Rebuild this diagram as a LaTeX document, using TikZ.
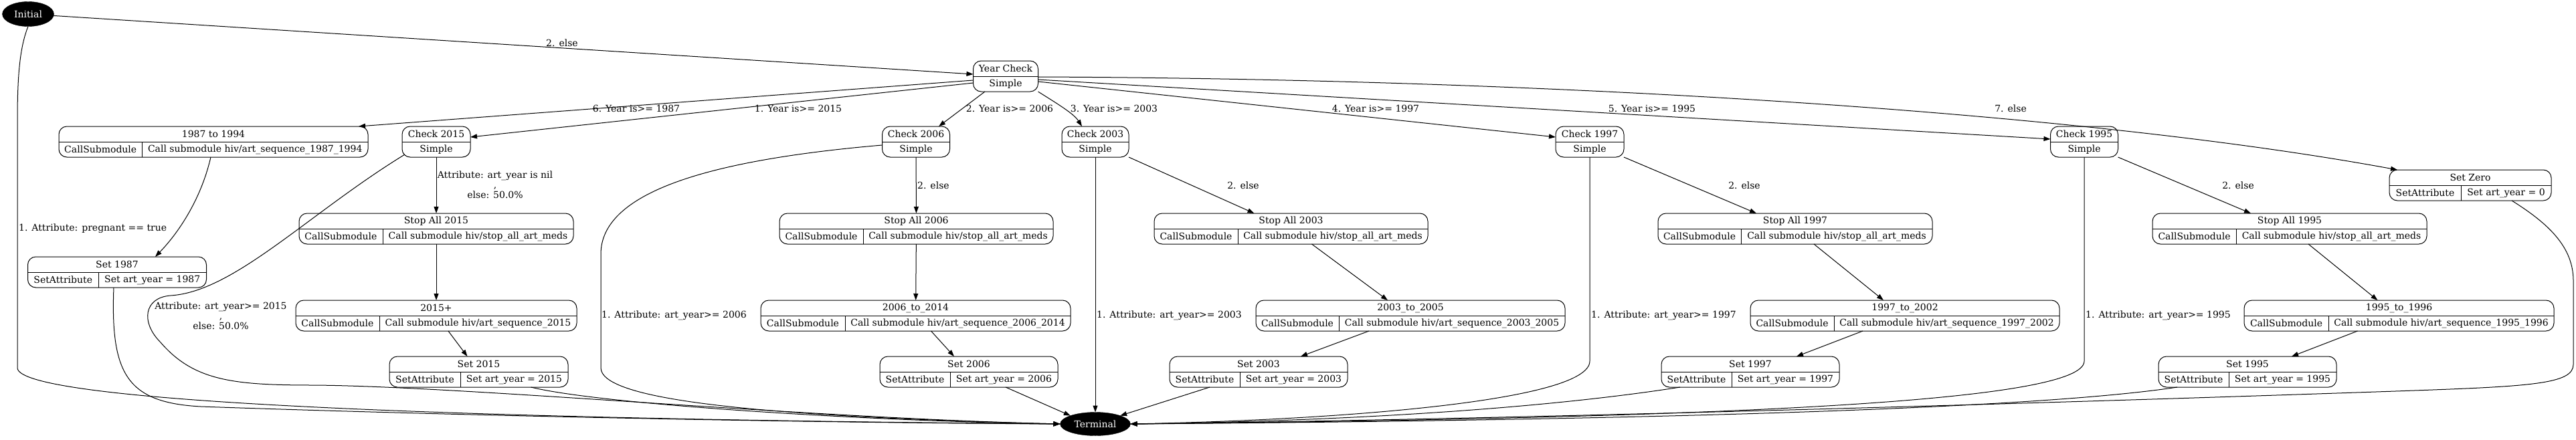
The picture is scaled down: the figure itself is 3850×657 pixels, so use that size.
\documentclass[tikz,border=0pt]{standalone}
\usepackage{fontspec}
\setmainfont{DejaVu Serif}
\usepackage{tikz}
\usetikzlibrary{calc,shapes.geometric,arrows.meta}

\tikzset{
    rec/.style={draw=black, line width=1pt, rounded corners=12pt, inner sep=0pt, outer sep=0pt, minimum height=46pt},
    rectext/.style={inner sep=0pt, font=\fontsize{14}{15}\selectfont},
    term/.style={ellipse, fill=black, draw=black, text=white, inner sep=0pt, outer sep=0pt, font=\fontsize{14}{15}\selectfont},
    edge/.style={line width=1pt, -{Triangle[length=10pt,width=7pt]}},
    lbl/.style={inner sep=0pt, align=center, font=\fontsize{14}{15}\selectfont},
}

% record box: name, left, right, y, divider, header, type, description
\newcommand{\recbox}[8]{
    \node[rec, minimum width={(#3-#2)*1pt}] (#1) at ({(#2+#3)/2},#4) {};
    \draw[line width=1pt] (#1.west) -- (#1.east);
    \draw[line width=1pt] (#5,#4) -- (#5,#4+23);
    \node[rectext] (#1h) at ({(#2+#3)/2},#4-11.5) {#6};
    \node[rectext] (#1l) at ({(#2+#5)/2},#4+11.5) {#7};
    \node[rectext] (#1r) at ({(#5+#3)/2},#4+11.5) {#8};
}

% simple box: name, x, y, width, header
\newcommand{\chkbox}[5]{
    \node[rec, minimum width=#4pt] (#1) at (#2,#3) {};
    \draw[line width=1pt] (#1.west) -- (#1.east);
    \node[rectext] (#1h) at (#2,#3-11.5) {#5};
    \node[rectext] (#1l) at (#2,#3+11.5) {Simple};
}

\begin{document}
\begin{tikzpicture}[x=1pt, y=-1pt]
    \useasboundingbox[fill=white] (0,0) rectangle (3850,657);

    \node[term, minimum width=77pt, minimum height=37pt] (init) at (42,21) {Initial};
    
    \node[term, minimum width=105pt, minimum height=35pt] (term) at (1637,634) {Terminal};
    
    \chkbox{yc}{1503}{114}{97}{Year Check}
    
    \chkbox{c2015}{652}{212}{102}{Check 2015}
    \chkbox{c2006}{1369}{212}{101}{Check 2006}
    \chkbox{c2003}{1637}{212}{100}{Check 2003}
    \chkbox{c1997}{2376}{212}{102}{Check 1997}
    \chkbox{c1995}{3115}{212}{101}{Check 1995}
    
    \recbox{r1987}{88}{550}{212}{212.5}{1987 to 1994}{CallSubmodule}{Call submodule hiv/art\_sequence\_1987\_1994}
    \recbox{set1987}{41.5}{308.5}{407}{147}{Set 1987}{SetAttribute}{Set art\_year = 1987}
    
    \recbox{stop2015}{447}{857}{342}{572}{Stop All 2015}{CallSubmodule}{Call submodule hiv/stop\_all\_art\_meds}
    \recbox{r2015}{442}{862}{472}{567}{2015+}{CallSubmodule}{Call submodule hiv/art\_sequence\_2015}
    \recbox{set2015}{582}{849}{556}{688}{Set 2015}{SetAttribute}{Set art\_year = 2015}
    
    \recbox{stop2006}{1165}{1574}{342}{1290}{Stop All 2006}{CallSubmodule}{Call submodule hiv/stop\_all\_art\_meds}
    \recbox{r2006}{1137}{1600}{472}{1263}{2006\_to\_2014}{CallSubmodule}{Call submodule hiv/art\_sequence\_2006\_2014}
    \recbox{set2006}{1315}{1581}{556}{1420}{Set 2006}{SetAttribute}{Set art\_year = 2006}
    
    \recbox{stop2003}{1725}{2134}{342}{1850}{Stop All 2003}{CallSubmodule}{Call submodule hiv/stop\_all\_art\_meds}
    \recbox{r2003}{1877}{2339}{472}{2001}{2003\_to\_2005}{CallSubmodule}{Call submodule hiv/art\_sequence\_2003\_2005}
    \recbox{set2003}{1748}{2014}{556}{1853}{Set 2003}{SetAttribute}{Set art\_year = 2003}
    
    \recbox{stop1997}{2478}{2888}{342}{2602}{Stop All 1997}{CallSubmodule}{Call submodule hiv/stop\_all\_art\_meds}
    \recbox{r1997}{2616}{3078}{472}{2741}{1997\_to\_2002}{CallSubmodule}{Call submodule hiv/art\_sequence\_1997\_2002}
    \recbox{set1997}{2483}{2749}{556}{2588}{Set 1997}{SetAttribute}{Set art\_year = 1997}
    
    \recbox{stop1995}{3217}{3627}{342}{3342}{Stop All 1995}{CallSubmodule}{Call submodule hiv/stop\_all\_art\_meds}
    \recbox{r1995}{3354}{3817}{472}{3480}{1995\_to\_1996}{CallSubmodule}{Call submodule hiv/art\_sequence\_1995\_1996}
    \recbox{set1995}{3226}{3492}{556}{3331}{Set 1995}{SetAttribute}{Set art\_year = 1995}
    
    \recbox{setzero}{3571}{3813}{277}{3678}{Set Zero}{SetAttribute}{Set art\_year = 0}
    
    
    % edges out of Initial and Year Check
    \draw[edge] (init) -- (yc);
    \draw[edge] (init.south) .. controls (30,70) and (26,110) .. (26,180) -- (26,550) .. controls (26,598) and (600,626) .. (term.west);
    
    \draw[edge] ($(yc.west)+(0,6)$) -- ($(r1987.north east)+(-14,0)$);
    \draw[edge] ($(yc.west)+(0,10)$) -- ($(c2015.east)+(0,-7)$);
    \draw[edge] ($(yc.south)+(-31,0)$) -- ($(c2006.north)+(34,0)$);
    \draw[edge] (yc.south east) .. controls (1580,155) and (1605,170) .. ($(c2003.north)+(-20,0)$);
    \draw[edge] ($(yc.east)+(0,8)$) -- ($(c1997.west)+(0,-7)$);
    \draw[edge] ($(yc.east)+(0,5)$) -- ($(c1995.west)+(0,-4)$);
    \draw[edge] ($(yc.east)+(0,1)$) .. controls (2300,118) and (3100,165) .. ($(setzero.north west)+(12,0)$);
    
    % 1987 branch
    \draw[edge] ($(r1987.south)+(-4,0)$) .. controls (300,300) and (265,350) .. ($(set1987.north)+(57,0)$);
    \draw[edge] ($(set1987.south)+(-5,0)$) .. controls (165,560) and (190,602) .. (300,608) .. controls (700,622) and (1200,632) .. (term.west);
    
    % 2015 branch
    \draw[edge] (c2015) -- (stop2015);
    \draw[edge] ($(c2015.south west)+(4,-4)$) .. controls (460,320) and (350,436) .. (255,442) .. controls (215,445) and (210,482) .. (240,512) .. controls (290,570) and (350,576) .. (470,576) .. controls (700,578) and (1200,625) .. (term.west);
    \draw[edge] (stop2015) -- (r2015);
    \draw[edge] ($(r2015.south)+(18,0)$) -- ($(set2015.north)+(-17,0)$);
    \draw[edge] ($(set2015.south)+(78,0)$) .. controls (900,605) and (1300,630) .. (term.west);
    
    % 2006 branch
    \draw[edge] (c2006) -- (stop2006);
    \draw[edge] ($(c2006.west)+(0,5)$) .. controls (1050,240) and (898,290) .. (898,380) -- (898,550) .. controls (898,595) and (1100,622) .. (term.west);
    \draw[edge] (stop2006) -- (r2006);
    \draw[edge] ($(r2006.south)+(23,0)$) -- ($(set2006.north)+(-22,0)$);
    \draw[edge] ($(set2006.south)+(55,0)$) -- (term.north west);
    
    % 2003 branch
    \draw[edge] (c2003) -- (term);
    \draw[edge] (c2003.south east) -- ($(stop2003.north)+(-55,0)$);
    \draw[edge] ($(stop2003.south)+(31,0)$) -- ($(r2003.north)+(-34,0)$);
    \draw[edge] ($(r2003.south)+(-62,0)$) -- ($(set2003.north)+(63,0)$);
    \draw[edge] ($(set2003.south)+(-73,0)$) -- (term.north east);
    
    % 1997 branch
    \draw[edge] (c1997.south) -- (2376,540) .. controls (2376,600) and (2000,628) .. (term.east);
    \draw[edge] (c1997.south east) -- ($(stop1997.north)+(-58,0)$);
    \draw[edge] ($(stop1997.south)+(28,0)$) -- ($(r1997.north)+(-32,0)$);
    \draw[edge] ($(r1997.south)+(-63,0)$) -- ($(set1997.north)+(69,0)$);
    \draw[edge] ($(set1997.south)+(-105,0)$) .. controls (2300,612) and (2000,630) .. (term.east);
    
    % 1995 branch
    \draw[edge] (c1995.south) -- (3115,540) .. controls (3115,600) and (2600,625) .. (term.east);
    \draw[edge] (c1995.south east) -- ($(stop1995.north)+(-58,0)$);
    \draw[edge] ($(stop1995.south)+(28,0)$) -- ($(r1995.north)+(-32,0)$);
    \draw[edge] ($(r1995.south)+(-62,0)$) -- ($(set1995.north)+(66,0)$);
    \draw[edge] ($(set1995.south)+(-105,0)$) .. controls (3050,610) and (2500,628) .. (term.east);
    
    % zero
    \draw[edge] ($(setzero.south)+(62,0)$) .. controls (3810,335) and (3846,370) .. (3846,420) -- (3846,545) .. controls (3846,575) and (3780,578) .. (3580,585) .. controls (3000,605) and (2200,628) .. (term.east);
    
    
    % labels
    \node[lbl] (lelse) at (840,64) {2. else};
    \node[lbl] (l1987) at (951,162) {6. Year is>= 1987};
    \node[lbl] (l2015) at (1193,162) {1. Year is>= 2015};
    \node[lbl] (l2006) at (1509,162) {2. Year is>= 2006};
    \node[lbl] (l2003) at (1665,162) {3. Year is>= 2003};
    \node[lbl] (l1997) at (2056,162) {4. Year is>= 1997};
    \node[lbl] (l1995) at (2469,162) {5. Year is>= 1995};
    \node[lbl] (lzero) at (3005,162) {7. else};
    
    \node[lbl, anchor=west] (lpreg) at (28,342) {1. Attribute: pregnant == true};
    \node[lbl] (lnil) at (740,276) {Attribute: art\_year is nil\\,\\else: 50.0\%};
    \node[lbl] (la2015) at (330,472) {Attribute: art\_year>= 2015\\,\\else: 50.0\%};
    
    \node[lbl, anchor=west] (le2006) at (1371,277) {2. else};
    \node[lbl, anchor=west] (la2006) at (899,472) {1. Attribute: art\_year>= 2006};
    \node[lbl, anchor=west] (la2003) at (1639,472) {1. Attribute: art\_year>= 2003};
    \node[lbl] (le2003) at (1858,277) {2. else};
    \node[lbl] (le1997) at (2607,277) {2. else};
    \node[lbl, anchor=west] (la1997) at (2378,472) {1. Attribute: art\_year>= 1997};
    \node[lbl] (le1995) at (3345,277) {2. else};
    \node[lbl, anchor=west] (la1995) at (3117,472) {1. Attribute: art\_year>= 1995};
    
\end{tikzpicture}
\end{document}
